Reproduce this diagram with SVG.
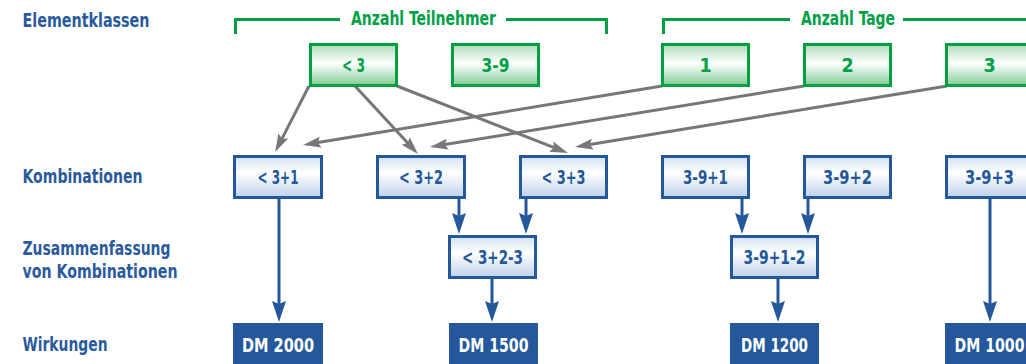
<svg xmlns="http://www.w3.org/2000/svg" width="1026" height="364" viewBox="0 0 1026 364">
<defs>
<linearGradient id="gG" x1="0" y1="0" x2="0" y2="1">
<stop offset="0" stop-color="#aadbb7"/>
<stop offset="0.45" stop-color="#ffffff"/>
<stop offset="1" stop-color="#82cb97"/>
</linearGradient>
<linearGradient id="gB" x1="0" y1="0" x2="0" y2="1">
<stop offset="0" stop-color="#d3e0f1"/>
<stop offset="0.4" stop-color="#ffffff"/>
<stop offset="1" stop-color="#bfd1ea"/>
</linearGradient>
<marker id="ag" markerUnits="userSpaceOnUse" markerWidth="20" markerHeight="12" refX="6" refY="5.5" orient="auto" overflow="visible">
<path d="M0,0 L18,5.5 L0,11 L3,5.5 Z" fill="#777777"/>
</marker>
<marker id="ab" markerUnits="userSpaceOnUse" markerWidth="22" markerHeight="14" refX="4" refY="7" orient="auto" overflow="visible">
<path d="M0,0 L21,7 L0,14 L3,7 Z" fill="#24589b"/>
</marker>
</defs>
<style>
text{font-family:"DejaVu Sans Condensed","DejaVu Sans",sans-serif;font-weight:bold;font-size:19.5px;}
.lbl{fill:#2a5a9c;}
.hdr{fill:#00a046;}
.gbox{fill:url(#gG);stroke:#00a040;stroke-width:3;}
.bbox{fill:url(#gB);stroke:#24589b;stroke-width:3;}
.dbox{fill:#24589b;}
.gt{fill:#00a046;text-anchor:middle;}
.bt{fill:#24589b;text-anchor:middle;}
.wt{fill:#ffffff;text-anchor:middle;}
.gl{stroke:#777777;stroke-width:3;fill:none;marker-end:url(#ag);}
.bl{stroke:#24589b;stroke-width:3;fill:none;marker-end:url(#ab);}
.br{stroke:#00a040;stroke-width:3;fill:none;}
</style>

<g id="row-labels">
<text class="lbl" x="22.5" y="26.5" textLength="127" lengthAdjust="spacingAndGlyphs">Elementklassen</text>
<text class="lbl" x="22.5" y="183" textLength="120" lengthAdjust="spacingAndGlyphs">Kombinationen</text>
<text class="lbl" x="22.5" y="255" textLength="148" lengthAdjust="spacingAndGlyphs">Zusammenfassung</text>
<text class="lbl" x="22.5" y="278" textLength="155" lengthAdjust="spacingAndGlyphs">von Kombinationen</text>
<text class="lbl" x="22.5" y="351" textLength="85" lengthAdjust="spacingAndGlyphs">Wirkungen</text>
</g>

<g id="bracket-teilnehmer">
<path class="br" d="M235.5,34 V19.5 H340 M506,19.5 H606.5 V34"/>
<text class="hdr" x="351" y="25" textLength="145" lengthAdjust="spacingAndGlyphs">Anzahl Teilnehmer</text>
</g>
<g id="bracket-tage">
<path class="br" d="M663.5,34 V19.5 H790 M903,19.5 H1030"/>
<text class="hdr" x="801" y="25" textLength="94" lengthAdjust="spacingAndGlyphs">Anzahl Tage</text>
</g>

<g id="connectors">
<line class="gl" x1="309" y1="86" x2="280.6" y2="141.4"/>
<line class="gl" x1="355" y1="86" x2="409.8" y2="145.3"/>
<line class="gl" x1="397" y1="86" x2="556.8" y2="148.7"/>
<line class="gl" x1="662" y1="86" x2="314.8" y2="143.1"/>
<line class="gl" x1="804" y1="86" x2="441.8" y2="145.1"/>
<line class="gl" x1="947" y1="86" x2="586.8" y2="145.1"/>
<line class="bl" x1="279" y1="199" x2="279" y2="305"/>
<line class="bl" x1="459" y1="199" x2="459" y2="217"/>
<line class="bl" x1="526" y1="199" x2="526" y2="217"/>
<line class="bl" x1="742" y1="199" x2="742" y2="217"/>
<line class="bl" x1="808" y1="199" x2="808" y2="217"/>
<line class="bl" x1="492" y1="279" x2="492" y2="305"/>
<line class="bl" x1="778" y1="279" x2="778" y2="305"/>
<line class="bl" x1="990" y1="199" x2="990" y2="305"/>
</g>

<g id="n-lt3"><rect class="gbox" x="310.5" y="44.5" width="86" height="41"/><text class="gt" x="353.5" y="72" textLength="23" lengthAdjust="spacingAndGlyphs">&lt; 3</text></g>
<g id="n-3-9"><rect class="gbox" x="452.5" y="44.5" width="86" height="41"/><text class="gt" x="495.5" y="72" textLength="28" lengthAdjust="spacingAndGlyphs">3-9</text></g>
<g id="n-1"><rect class="gbox" x="662.5" y="44.5" width="86" height="41"/><text class="gt" x="705.5" y="72">1</text></g>
<g id="n-2"><rect class="gbox" x="804.5" y="44.5" width="86" height="41"/><text class="gt" x="847.5" y="72">2</text></g>
<g id="n-3"><rect class="gbox" x="946.5" y="44.5" width="86" height="41"/><text class="gt" x="989.5" y="72">3</text></g>

<g id="n-lt3p1"><rect class="bbox" x="234.5" y="156.5" width="87" height="41"/><text class="bt" x="278" y="184" textLength="41" lengthAdjust="spacingAndGlyphs">&lt; 3+1</text></g>
<g id="n-lt3p2"><rect class="bbox" x="377.5" y="156.5" width="87" height="41"/><text class="bt" x="421" y="184" textLength="44" lengthAdjust="spacingAndGlyphs">&lt; 3+2</text></g>
<g id="n-lt3p3"><rect class="bbox" x="520.5" y="156.5" width="86" height="41"/><text class="bt" x="563.5" y="184" textLength="44" lengthAdjust="spacingAndGlyphs">&lt; 3+3</text></g>
<g id="n-39p1"><rect class="bbox" x="662.5" y="156.5" width="86" height="41"/><text class="bt" x="705.5" y="184" textLength="45" lengthAdjust="spacingAndGlyphs">3-9+1</text></g>
<g id="n-39p2"><rect class="bbox" x="804.5" y="156.5" width="86" height="41"/><text class="bt" x="847.5" y="184" textLength="49" lengthAdjust="spacingAndGlyphs">3-9+2</text></g>
<g id="n-39p3"><rect class="bbox" x="946.5" y="156.5" width="86" height="41"/><text class="bt" x="989.5" y="184" textLength="49" lengthAdjust="spacingAndGlyphs">3-9+3</text></g>

<g id="n-lt3p2-3"><rect class="bbox" x="449.5" y="236.5" width="86" height="41"/><text class="bt" x="492.5" y="264" textLength="61" lengthAdjust="spacingAndGlyphs">&lt; 3+2-3</text></g>
<g id="n-39p1-2"><rect class="bbox" x="731.5" y="236.5" width="86" height="41"/><text class="bt" x="774.5" y="264" textLength="62" lengthAdjust="spacingAndGlyphs">3-9+1-2</text></g>

<g id="n-dm2000"><rect class="dbox" x="233" y="323" width="90" height="44"/><text class="wt" x="278" y="352" textLength="72" lengthAdjust="spacingAndGlyphs">DM 2000</text></g>
<g id="n-dm1500"><rect class="dbox" x="449" y="323" width="89" height="44"/><text class="wt" x="493.5" y="352" textLength="70" lengthAdjust="spacingAndGlyphs">DM 1500</text></g>
<g id="n-dm1200"><rect class="dbox" x="730" y="323" width="89" height="44"/><text class="wt" x="774.5" y="352" textLength="67" lengthAdjust="spacingAndGlyphs">DM 1200</text></g>
<g id="n-dm1000"><rect class="dbox" x="945" y="323" width="89" height="44"/><text class="wt" x="989.5" y="352" textLength="70" lengthAdjust="spacingAndGlyphs">DM 1000</text></g>
</svg>
